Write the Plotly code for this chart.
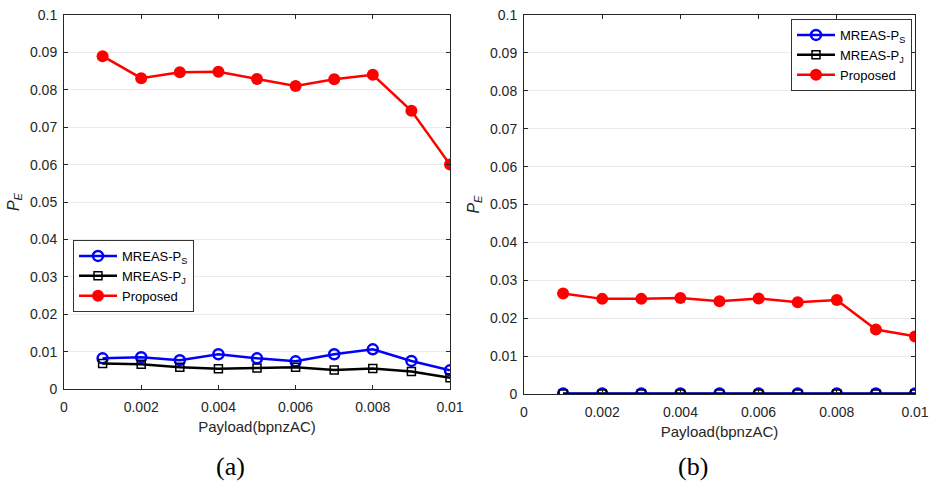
import plotly.graph_objects as go

payload = [0.001, 0.002, 0.003, 0.004, 0.005, 0.006, 0.007, 0.008, 0.009, 0.010]

a_ps = [0.0082, 0.0085, 0.0077, 0.0093, 0.0082, 0.0074, 0.0093, 0.0106, 0.0075, 0.0050]
a_pj = [0.0068, 0.0066, 0.0058, 0.0054, 0.0056, 0.0058, 0.0051, 0.0055, 0.0047, 0.0030]
a_prop = [0.0890, 0.0831, 0.0847, 0.0848, 0.0829, 0.0810, 0.0828, 0.0840, 0.0744, 0.0600]

b_ps = [0.0001, 0.0001, 0.0001, 0.0001, 0.0001, 0.0001, 0.0001, 0.0001, 0.0001, 0.0001]
b_pj = [0.0, 0.0, 0.0, 0.0, 0.0, 0.0, 0.0, 0.0, 0.0, 0.0]
b_prop = [0.0265, 0.0251, 0.0251, 0.0253, 0.0245, 0.0252, 0.0242, 0.0248, 0.0170, 0.0152]

x_ticks = [0, 0.002, 0.004, 0.006, 0.008, 0.01]
x_ticktext = ["0", "0.002", "0.004", "0.006", "0.008", "0.01"]
y_ticks = [0, 0.01, 0.02, 0.03, 0.04, 0.05, 0.06, 0.07, 0.08, 0.09, 0.1]
y_ticktext = ["0", "0.01", "0.02", "0.03", "0.04", "0.05", "0.06", "0.07", "0.08", "0.09", "0.1"]

names = ["MREAS-P<sub>S</sub>", "MREAS-P<sub>J</sub>", "Proposed"]

W, H = 931, 484
FONT = "Liberation Sans, Arial, sans-serif"
TICKC = "#262626"


def px(x):
    return x / W


def py(y):
    return 1 - y / H


fig = go.Figure()


def add_panel(ps, pj, prop, xa, ya, legend):
    fig.add_trace(go.Scatter(x=payload, y=ps, name=names[0], mode="lines+markers",
                             line=dict(color="#0000ff", width=2.5),
                             marker=dict(symbol="circle-open", size=10, color="#0000ff",
                                         line=dict(width=2.5)),
                             xaxis=xa, yaxis=ya, legend=legend))
    fig.add_trace(go.Scatter(x=payload, y=pj, name=names[1], mode="lines+markers",
                             line=dict(color="#000000", width=2.5),
                             marker=dict(symbol="square-open", size=8, color="#000000",
                                         line=dict(width=1.5)),
                             xaxis=xa, yaxis=ya, legend=legend))
    fig.add_trace(go.Scatter(x=payload, y=prop, name=names[2], mode="lines+markers",
                             line=dict(color="#ff0000", width=2.5),
                             marker=dict(symbol="circle", size=12, color="#ff0000"),
                             xaxis=xa, yaxis=ya, legend=legend))


add_panel(a_ps, a_pj, a_prop, "x", "y", "legend")
add_panel(b_ps, b_pj, b_prop, "x2", "y2", "legend2")


def xax(domain, anchor):
    return dict(domain=domain, anchor=anchor, range=[0, 0.01], tickvals=x_ticks,
                ticktext=x_ticktext, showgrid=False, zeroline=False, showline=True,
                linecolor=TICKC, linewidth=1, mirror="ticks", ticks="inside", ticklen=4,
                tickcolor=TICKC, tickfont=dict(family=FONT, size=14, color=TICKC),
                automargin=False, ticklabelstandoff=5, ticklabeloverflow="allow",
                title=dict(text="Payload(bpnzAC)", font=dict(family=FONT, size=15, color=TICKC),
                           standoff=7))


def yax(domain, anchor):
    return dict(domain=domain, anchor=anchor, range=[0, 0.1], tickvals=y_ticks,
                ticktext=y_ticktext, showgrid=True, gridcolor="#ebebeb", gridwidth=1,
                zeroline=False, showline=True, linecolor=TICKC, linewidth=1, mirror="ticks",
                ticks="inside", ticklen=4, tickcolor=TICKC, automargin=False,
                ticklabelstandoff=3, ticklabeloverflow="allow",
                tickfont=dict(family=FONT, size=14, color=TICKC),
                title=dict(text="<i>P</i><sub><i>E</i></sub>",
                           font=dict(family=FONT, size=16, color=TICKC), standoff=6))


fig.update_layout(
    width=W, height=H,
    margin=dict(l=0, r=0, t=0, b=0),
    paper_bgcolor="white", plot_bgcolor="white",
    xaxis=xax([px(64), px(450)], "y"),
    yaxis=yax([py(389), py(15)], "x"),
    xaxis2=xax([px(524), px(915)], "y2"),
    yaxis2=yax([py(394), py(15)], "x2"),
    legend=dict(x=px(73), y=py(240), xanchor="left", yanchor="top",
                bgcolor="white", bordercolor="#333333", borderwidth=1,
                font=dict(family=FONT, size=13, color="#000000"),
                tracegroupgap=0, itemwidth=38),
    legend2=dict(x=px(791), y=py(19), xanchor="left", yanchor="top",
                 bgcolor="white", bordercolor="#333333", borderwidth=1,
                 font=dict(family=FONT, size=13, color="#000000"),
                 tracegroupgap=0, itemwidth=38),
    annotations=[
        dict(text="(a)", x=px(230), y=py(466), xref="paper", yref="paper",
             xanchor="center", yanchor="middle", showarrow=False,
             font=dict(family="Liberation Serif, Times New Roman, serif",
                       size=26, color="#000000")),
        dict(text="(b)", x=px(693), y=py(466), xref="paper", yref="paper",
             xanchor="center", yanchor="middle", showarrow=False,
             font=dict(family="Liberation Serif, Times New Roman, serif",
                       size=26, color="#000000")),
    ],
)

fig.write_html("out.html", config={"displayModeBar": False},
               post_script="document.body.style.margin='0';document.body.style.overflow='hidden';")
